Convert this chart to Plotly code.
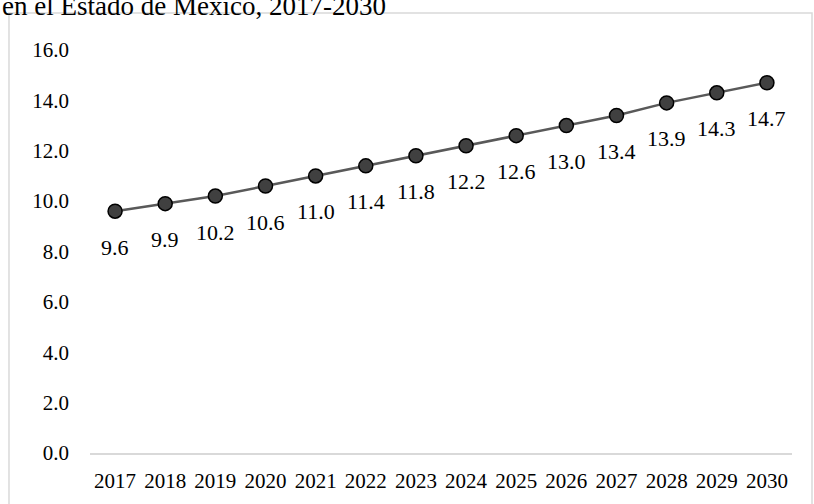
"""Line chart with point labels, 2017-2030."""

import plotly.graph_objects as go

years = [2017, 2018, 2019, 2020, 2021, 2022, 2023, 2024, 2025, 2026, 2027, 2028, 2029, 2030]
values = [9.6, 9.9, 10.2, 10.6, 11.0, 11.4, 11.8, 12.2, 12.6, 13.0, 13.4, 13.9, 14.3, 14.7]
value_labels = [f"{v:.1f}" for v in values]
y_ticks = [0, 2, 4, 6, 8, 10, 12, 14, 16]
title_text = "en el Estado de México, 2017-2030"

FONT = "Liberation Serif"

fig = go.Figure()
fig.add_trace(
    go.Scatter(
        x=years,
        y=values,
        mode="lines+markers",
        line=dict(color="#595959", width=2.5),
        marker=dict(size=14, color="#404040", line=dict(color="#000000", width=1.5)),
        showlegend=False,
        hoverinfo="x+y",
    )
)

for x, y, t in zip(years, values, value_labels):
    fig.add_annotation(
        x=x, y=y, text=t, showarrow=False, yshift=-36,
        font=dict(family=FONT, size=22, color="#000000"),
    )

# outer chart frame
fig.add_shape(
    type="rect", xref="paper", yref="paper",
    x0=-0.1154, x1=1.0285, y0=-0.14, y1=1.0918,
    line=dict(color="#d9d9d9", width=1.5), layer="below",
)

# title line, partly cut off at the top like the source image
fig.add_annotation(
    xref="paper", yref="paper", x=-0.128, y=1.067,
    xanchor="left", yanchor="bottom", showarrow=False,
    text=title_text, font=dict(family=FONT, size=27, color="#000000"),
)

fig.update_layout(
    width=814,
    height=504,
    margin=dict(l=90, r=22, t=50, b=51, autoexpand=False),
    paper_bgcolor="white",
    plot_bgcolor="white",
    font=dict(family=FONT, size=21, color="#000000"),
    xaxis=dict(
        range=[2016.5, 2030.5],
        tickmode="array",
        tickvals=years,
        ticktext=[str(y) for y in years],
        showgrid=False,
        zeroline=False,
        showline=True,
        linecolor="#d9d9d9",
        linewidth=1.5,
        ticks="",
        ticklabelstandoff=8,
        automargin=False,
    ),
    yaxis=dict(
        range=[0, 16],
        tickmode="array",
        tickvals=y_ticks,
        ticktext=[f"{v:.1f}" for v in y_ticks],
        showgrid=False,
        zeroline=False,
        showline=False,
        ticks="",
        ticklabelstandoff=20,
        automargin=False,
    ),
)

fig.write_html(
    "out.html",
    config={"displayModeBar": False},
    post_script="document.body.style.margin = '0';",
)
